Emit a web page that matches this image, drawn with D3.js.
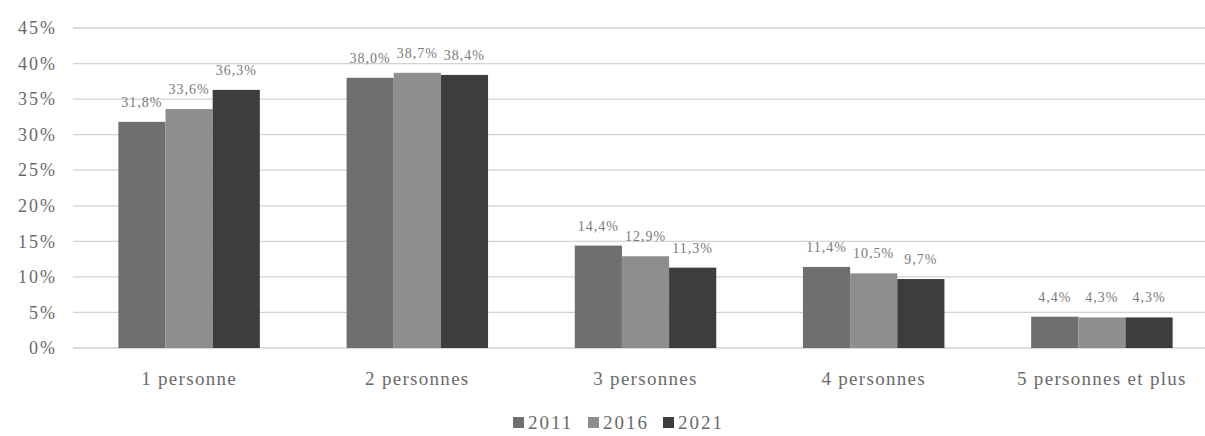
<!DOCTYPE html>
<html>
<head>
<meta charset="utf-8">
<script src="https://cdn.jsdelivr.net/npm/d3@7"></script>
<style>
  body { margin: 0; background: #fff; }
  text { font-family: "Liberation Serif", "DejaVu Serif", serif; }
</style>
</head>
<body>
<div id="container"></div>
<script>
/* CONSTANTS AND GLOBALS */
const width = 1205;
const height = 436;

/* DATA */
const categories = ["1 personne", "2 personnes", "3 personnes", "4 personnes", "5 personnes et plus"];
const years = ["2011", "2016", "2021"];
const values2011 = [31.8, 38.0, 14.4, 11.4, 4.4];
const values2016 = [33.6, 38.7, 12.9, 10.5, 4.3];
const values2021 = [36.3, 38.4, 11.3, 9.7, 4.3];
const yTicks = [0, 5, 10, 15, 20, 25, 30, 35, 40, 45];
const colors = ["#6f6f6f", "#8e8e8e", "#3d3d3d"];

const series = [values2011, values2016, values2021];
const fmt = v => v.toFixed(1).replace(".", ",") + "%";

/* SCALES */
const xScale = d3.scaleBand()
  .domain(categories)
  .range([75, 1216])
  .paddingInner(0.38)
  .paddingOuter(0.19);

const xInner = d3.scaleBand()
  .domain(years)
  .range([0, xScale.bandwidth()]);

const yScale = d3.scaleLinear()
  .domain([0, 45])
  .range([348, 28]);

const color = d3.scaleOrdinal().domain(years).range(colors);

/* HTML ELEMENTS */
const svg = d3.select("#container")
  .append("svg")
  .attr("width", width)
  .attr("height", height);

// gridlines
svg.append("g")
  .selectAll("line")
  .data(yTicks)
  .join("line")
  .attr("x1", 73)
  .attr("x2", width)
  .attr("y1", d => yScale(d))
  .attr("y2", d => yScale(d))
  .attr("stroke", "#d2d2d2")
  .attr("stroke-width", 1.3);

// y axis labels
const yAxis = d3.axisLeft(yScale)
  .tickValues(yTicks)
  .tickFormat(d => d + "%")
  .tickSize(0)
  .tickPadding(0);

svg.append("g")
  .attr("transform", "translate(57,0)")
  .call(yAxis)
  .call(g => g.select(".domain").remove())
  .selectAll("text")
  .attr("fill", "#6a6a6a")
  .style("font-size", "18px")
  .style("letter-spacing", "2px");

// bars
const groups = svg.append("g")
  .selectAll("g")
  .data(categories)
  .join("g")
  .attr("transform", d => `translate(${xScale(d)},0)`);

groups.selectAll("rect")
  .data((c, i) => years.map((y, j) => ({ year: y, value: series[j][i] })))
  .join("rect")
  .attr("x", d => xInner(d.year))
  .attr("width", xInner.bandwidth())
  .attr("y", d => yScale(d.value))
  .attr("height", d => yScale(0) - yScale(d.value))
  .attr("fill", d => color(d.year));

groups.selectAll("text.lbl")
  .data((c, i) => years.map((y, j) => ({ year: y, value: series[j][i] })))
  .join("text")
  .attr("class", "lbl")
  .attr("x", d => xInner(d.year) + xInner.bandwidth() / 2)
  .attr("y", d => yScale(d.value) - 15)
  .attr("text-anchor", "middle")
  .attr("fill", "#7a7a7a")
  .style("font-size", "14px")
  .style("letter-spacing", "1px")
  .text(d => fmt(d.value));

// x axis
const xAxis = d3.axisBottom(xScale).tickSize(0).tickPadding(0);
svg.append("g")
  .attr("transform", "translate(0,371)")
  .call(xAxis)
  .call(g => g.select(".domain").remove())
  .selectAll("text")
  .attr("fill", "#6a6a6a")
  .style("font-size", "19px")
  .style("letter-spacing", "1.3px");

// legend
const legendX = d3.scalePoint().domain(years).range([513, 663]);
const legend = svg.append("g")
  .selectAll("g")
  .data(years)
  .join("g")
  .attr("transform", d => `translate(${legendX(d)},417)`);

legend.append("rect")
  .attr("width", 11)
  .attr("height", 11)
  .attr("fill", d => color(d));

legend.append("text")
  .attr("x", 15)
  .attr("y", 12)
  .attr("fill", "#6a6a6a")
  .style("font-size", "19px")
  .style("letter-spacing", "2px")
  .text(d => d);
</script>
</body>
</html>
